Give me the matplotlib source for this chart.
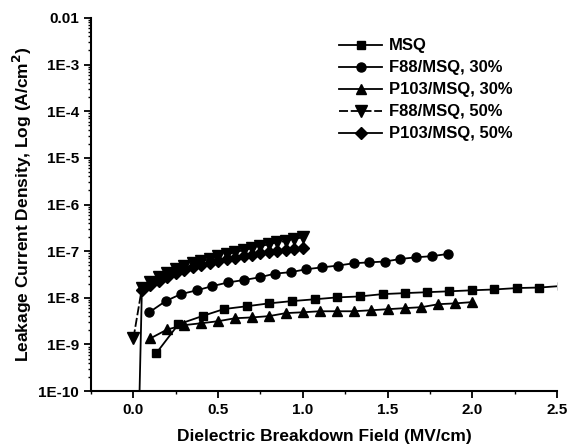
import numpy as np
import matplotlib.pyplot as plt
from matplotlib.ticker import LogLocator, MultipleLocator, NullFormatter

plt.rcParams['font.family'] = ['Liberation Sans', 'DejaVu Sans']
plt.rcParams['font.weight'] = 'bold'

#%% 데이터
msq_x = [0.135, 0.265, 0.41, 0.535, 0.67, 0.80, 0.935, 1.07, 1.2, 1.335, 1.47, 1.6,
         1.735, 1.865, 2.0, 2.13, 2.265, 2.395, 2.53]
msq_y = [6.5e-10, 2.7e-9, 4.1e-9, 5.75e-9, 6.6e-9, 7.6e-9, 8.5e-9, 9.3e-9, 1.02e-8, 1.07e-8,
         1.2e-8, 1.26e-8, 1.32e-8, 1.38e-8, 1.45e-8, 1.51e-8, 1.62e-8, 1.66e-8, 1.8e-8]

f88_30_x = [0.094, 0.19, 0.28, 0.375, 0.465, 0.56, 0.65, 0.745, 0.835, 0.93, 1.02, 1.115,
            1.205, 1.3, 1.39, 1.485, 1.575, 1.67, 1.76, 1.855]
f88_30_y = [4.9e-9, 8.5e-9, 1.2e-8, 1.45e-8, 1.78e-8, 2.14e-8, 2.4e-8, 2.75e-8, 3.3e-8, 3.55e-8,
            4.1e-8, 4.5e-8, 4.9e-8, 5.5e-8, 5.75e-8, 6.0e-8, 6.8e-8, 7.4e-8, 7.8e-8, 8.7e-8]

p103_30_x = [0.1, 0.2, 0.3, 0.4, 0.5, 0.6, 0.7, 0.8, 0.9, 1.0, 1.1, 1.2, 1.3, 1.4, 1.5,
             1.6, 1.7, 1.8, 1.9, 2.0]
p103_30_y = [1.35e-9, 2.1e-9, 2.6e-9, 2.85e-9, 3.15e-9, 3.65e-9, 3.8e-9, 4.05e-9, 4.7e-9, 4.9e-9,
             5.15e-9, 5.15e-9, 5.15e-9, 5.4e-9, 5.7e-9, 6.0e-9, 6.3e-9, 7.3e-9, 7.6e-9, 8.1e-9]

f88_50_x = [0.0, 0.05, 0.1, 0.15, 0.2, 0.25, 0.3, 0.35, 0.4, 0.45, 0.5, 0.55, 0.6, 0.65,
            0.7, 0.75, 0.8, 0.85, 0.9, 0.95, 1.0]
f88_50_y = [1.35e-9, 1.6e-8, 2.16e-8, 2.77e-8, 3.37e-8, 4.1e-8, 4.8e-8, 5.5e-8, 6.1e-8, 6.7e-8,
            7.8e-8, 8.6e-8, 9.5e-8, 1.05e-7, 1.16e-7, 1.28e-7, 1.41e-7, 1.56e-7, 1.64e-7, 1.81e-7, 2.0e-7]

p103_50_x = [0.03, 0.05, 0.1, 0.15, 0.2, 0.25, 0.3, 0.35, 0.4, 0.45, 0.5, 0.55, 0.6, 0.65,
             0.7, 0.75, 0.8, 0.85, 0.9, 0.95, 1.0]
p103_50_y = [1e-11, 1.46e-8, 1.86e-8, 2.27e-8, 2.77e-8, 3.37e-8, 3.9e-8, 4.5e-8, 5.0e-8, 5.5e-8,
             6.1e-8, 6.7e-8, 7.1e-8, 7.8e-8, 8.2e-8, 9.1e-8, 9.5e-8, 1.0e-7, 1.05e-7, 1.1e-7, 1.16e-7]

ytick_vals = [1e-2, 1e-3, 1e-4, 1e-5, 1e-6, 1e-7, 1e-8, 1e-9, 1e-10]
ytick_labels = ['0.01', '1E-3', '1E-4', '1E-5', '1E-6', '1E-7', '1E-8', '1E-9', '1E-10']

#%% 그래프
fig = plt.figure(figsize=(5.69, 4.47), dpi=100)
ax = fig.add_axes([0.16, 0.125, 0.819, 0.835])

ax.plot(msq_x, msq_y, '-', color='k', marker='s', ms=6, lw=1.3, label='MSQ')
ax.plot(f88_30_x, f88_30_y, '-', color='k', marker='o', ms=6.5, lw=1.3, label='F88/MSQ, 30%')
ax.plot(p103_30_x, p103_30_y, '-', color='k', marker='^', ms=7.5, lw=1.3, label='P103/MSQ, 30%')
ax.plot(f88_50_x, f88_50_y, color='k', ls=(0, (5, 1.5)), marker='v', ms=8, lw=1.3, label='F88/MSQ, 50%')
ax.plot(p103_50_x, p103_50_y, '-', color='k', marker='D', ms=6, lw=1.3, label='P103/MSQ, 50%',
        markevery=list(range(1, len(p103_50_x))))

ax.set_yscale('log')
ax.set_ylim(1e-10, 1e-2)
ax.set_xlim(-0.25, 2.5)
ax.set_yticks(ytick_vals)
ax.set_yticklabels(ytick_labels)
ax.yaxis.set_minor_locator(LogLocator(base=10, subs=np.arange(2, 10)))
ax.yaxis.set_minor_formatter(NullFormatter())
ax.xaxis.set_major_locator(MultipleLocator(0.5))
ax.xaxis.set_minor_locator(MultipleLocator(0.25))

for s in ['top', 'right']:
    ax.spines[s].set_visible(False)
ax.spines['left'].set_linewidth(1.5)
ax.spines['bottom'].set_linewidth(1.5)
ax.tick_params(which='major', direction='out', length=5, width=1.3, labelsize=11)
ax.tick_params(which='minor', direction='out', length=2.5, width=1)

ax.set_xlabel('Dielectric Breakdown Field (MV/cm)', fontsize=12.5, fontweight='bold', labelpad=9)
ax.set_ylabel('Leakage Current Density, Log (A/cm$^\\mathbf{2}$)', fontsize=12.5, fontweight='bold', labelpad=3)

ax.legend(loc='upper left', bbox_to_anchor=(0.5, 0.985), frameon=False, fontsize=12,
          handlelength=2.6, labelspacing=0.42, handletextpad=0.4)

plt.savefig('out.png', dpi=100)
